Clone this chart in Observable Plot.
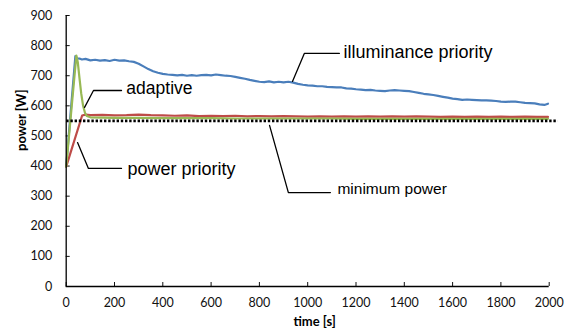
<!DOCTYPE html>
<html><head><meta charset="utf-8">
<script src="https://cdn.jsdelivr.net/npm/d3@7"></script>
<script src="https://cdn.jsdelivr.net/npm/@observablehq/plot@0.6"></script>
<style>body{margin:0;background:#fff}</style>
</head><body><div id="chart"></div>
<script>
// ---- data (time [s], power [W]) ----
const illuminancePriority = [[0,400],[38,765],[45,758],[55,757],[65,754],[80,756],[100,751],[120,753],[140,750],[160,752],[180,749],[200,753],[220,750],[240,751],[260,748],[280,746],[300,740],[320,731],[340,722],[360,715],[380,710],[400,706],[420,704],[440,703],[460,701],[480,703],[500,700],[520,702],[540,700],[560,702],[580,703],[600,701],[620,704],[640,702],[660,700],[680,699],[700,696],[720,693],[740,690],[760,686],[780,683],[800,680],[820,679],[840,681],[860,678],[880,680],[900,678],[920,680],[940,677],[960,673],[980,670],[1000,668],[1020,667],[1040,665],[1060,665],[1080,663],[1100,662],[1120,661],[1140,661],[1160,658],[1180,657],[1200,655],[1220,654],[1240,652],[1260,653],[1280,651],[1300,650],[1320,649],[1340,651],[1360,652],[1380,651],[1400,650],[1420,649],[1440,646],[1460,643],[1480,640],[1500,638],[1520,636],[1540,633],[1560,630],[1580,627],[1600,624],[1620,622],[1640,620],[1660,621],[1680,620],[1700,619],[1720,618],[1740,618],[1760,617],[1780,616],[1800,614],[1820,613],[1840,614],[1860,614],[1880,612],[1900,610],[1920,609],[1940,608],[1960,605],[1980,603],[1995,607]];
const powerPriority = [[0,398],[66,568],[80,571],[100,569],[150,570],[200,568],[250,569],[300,571],[350,569],[400,568],[450,567],[500,568],[550,566],[600,567],[650,566],[700,567],[750,565],[800,566],[850,565],[900,566],[950,565],[1000,564],[1050,565],[1100,564],[1150,565],[1200,564],[1250,565],[1300,564],[1350,565],[1400,564],[1450,565],[1500,564],[1550,563],[1600,564],[1650,563],[1700,564],[1750,563],[1800,564],[1850,563],[1900,564],[1950,563],[1995,563]];
const adaptive = [[0,398],[42,767],[48,745],[55,692],[62,642],[70,600],[78,576],[85,566],[100,562],[150,561],[200,560],[300,560],[400,559],[500,559],[600,559],[700,558],[800,558],[900,558],[1000,558],[1100,558],[1200,557],[1300,557],[1400,557],[1500,557],[1600,557],[1700,557],[1800,557],[1900,557],[1995,557]];
const minimumPower = 550;
const minimumPowerSpan = [0, 2035];

const xTicks = [0,200,400,600,800,1000,1200,1400,1600,1800,2000];
const yTicks = [0,100,200,300,400,500,600,700,800,900];

const labels = ["illuminance priority","adaptive","power priority","minimum power"];
const labelT = [1148, 249, 254, 1123];
const labelP = [779, 658, 388, 324];
const labelSize = [18, 17.5, 18, 15.5];
const leaderT = [[937,986,1131],[76,113,229],[47,92,229],[842,920,1094]];
const leaderP = [[681,774,774],[595,651,651],[478,392,392],[535,312,312]];

const colors = {illum: "#4A7EBB", power: "#BE4B48", adapt: "#98B954"};

// ---- build ----
const labelData = labels.map((s,i)=>({s, t: labelT[i], p: labelP[i], size: labelSize[i]}));
const leaderData = leaderT.flatMap((ts,i)=>ts.map((t,j)=>({k:i, t, p: leaderP[i][j]})));
const dotted = minimumPowerSpan.map(t=>({t, p: minimumPower}));

const chart = Plot.plot({
  width: 571, height: 334,
  marginLeft: 65.7, marginRight: 22.3, marginTop: 15, marginBottom: 48,
  style: {fontFamily: "Lato", fontSize: "12.5px", color: "#111", background: "#fff"},
  x: {domain: [0,2000]},
  y: {domain: [0,900]},
  marks: [
    Plot.axisX({ticks: xTicks, tickSize: 4, dy: -4, tickPadding: 12, label: null, tickFormat: d=>String(d)}),
    Plot.axisY({ticks: yTicks, tickSize: 4, dx: 4, tickPadding: 14, label: null, tickFormat: d=>String(d)}),
    Plot.line(illuminancePriority, {x: d=>d[0], y: d=>d[1], stroke: colors.illum, strokeWidth: 2.2}),
    Plot.line(powerPriority, {x: d=>d[0], y: d=>d[1], stroke: colors.power, strokeWidth: 2.2}),
    Plot.line(adaptive, {x: d=>d[0], y: d=>d[1], stroke: colors.adapt, strokeWidth: 2.2}),
    Plot.line(dotted, {x: "t", y: "p", stroke: "#000", strokeWidth: 2.6, strokeDasharray: "2.4,1.8", strokeLinecap: "butt"}),
    Plot.ruleX([0], {stroke: "#000", strokeWidth: 1.3}),
    Plot.ruleY([0], {stroke: "#000", strokeWidth: 1.3}),
    Plot.line(leaderData, {x: "t", y: "p", z: "k", stroke: "#000", strokeWidth: 1.3}),
    Plot.text(labelData, {x: "t", y: "p", text: "s", fontSize: "size", textAnchor: "start", lineAnchor: "middle", fontFamily: "Liberation Sans", fill: "#000"}),
    Plot.text(["time [s]"], {frameAnchor: "bottom", dy: 39, dx: 7, fontWeight: "bold", fontSize: 13, fill: "#000"}),
    Plot.text(["power [W]"], {frameAnchor: "left", dx: -44, rotate: -90, fontWeight: "bold", fontSize: 13, fill: "#000"})
  ]
});
document.getElementById("chart").appendChild(chart);
</script></body></html>
